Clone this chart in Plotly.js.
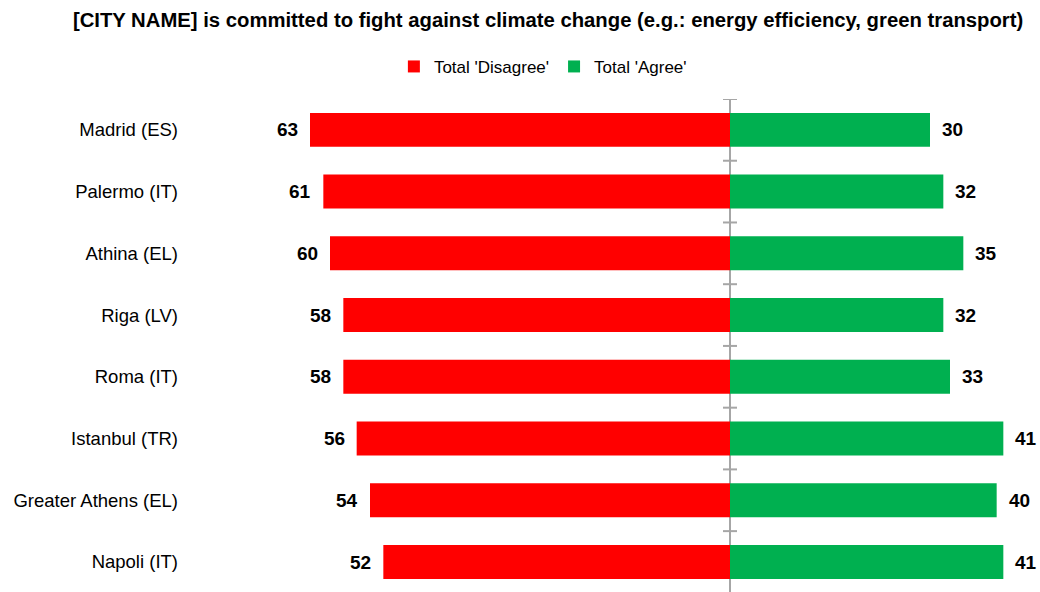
<!DOCTYPE html>
<html>
<head>
<meta charset="utf-8">
<script src="https://cdn.plot.ly/plotly-3.0.1.min.js"></script>
<style>html,body{margin:0;padding:0;background:#fff;}#chart{width:1040px;height:592px;}</style>
</head>
<body>
<div id="chart"></div>
<script>
const cities = ["Madrid (ES)", "Palermo (IT)", "Athina (EL)", "Riga (LV)", "Roma (IT)", "Istanbul (TR)", "Greater Athens (EL)", "Napoli (IT)"];
const disagree = [63, 61, 60, 58, 58, 56, 54, 52];
const agree = [30, 32, 35, 32, 33, 41, 40, 41];
const seriesNames = ["Total 'Disagree'", "Total 'Agree'"];
const titleText = "[CITY NAME] is committed to fight against climate change (e.g.: energy efficiency, green transport)";

const FONT = "'Liberation Sans', Arial, sans-serif";

const traces = [
  {type: 'bar', orientation: 'h', name: seriesNames[0], y: cities, x: disagree.map(v => -v),
   marker: {color: '#FF0000'}, width: 0.55, hoverinfo: 'skip'},
  {type: 'bar', orientation: 'h', name: seriesNames[1], y: cities, x: agree,
   marker: {color: '#00B050'}, width: 0.55, hoverinfo: 'skip'}
];

const annotations = [];
cities.forEach((c, i) => {
  annotations.push({x: -disagree[i], y: c, xref: 'x', yref: 'y', text: '<b>' + disagree[i] + '</b>',
    showarrow: false, xanchor: 'right', xshift: -10, font: {family: FONT, size: 19, color: '#000'}});
  annotations.push({x: agree[i], y: c, xref: 'x', yref: 'y', text: '<b>' + agree[i] + '</b>',
    showarrow: false, xanchor: 'left', xshift: 10, font: {family: FONT, size: 19, color: '#000'}});
});

const shapes = [];
for (let i = 0; i < cities.length; i++) {
  shapes.push({type: 'line', xref: 'x', yref: 'y', xsizemode: 'pixel', xanchor: 0,
    x0: -7, x1: 7, y0: i - 0.5, y1: i - 0.5, line: {color: '#A6A6A6', width: 2}});
}

const layout = {
  width: 1040, height: 592,
  margin: {l: 195, r: 5, t: 99, b: 0},
  paper_bgcolor: '#fff', plot_bgcolor: '#fff',
  title: {text: '<b>' + titleText + '</b>', x: 0.527, xanchor: 'center', y: 0.966, yanchor: 'middle',
    font: {family: FONT, size: 20.3, color: '#000'}},
  showlegend: true,
  legend: {orientation: 'h', xref: 'container', yref: 'container', x: 0.522, xanchor: 'center', y: 0.887, yanchor: 'middle',
    font: {family: FONT, size: 17, color: '#000'}, itemwidth: 30, traceorder: 'normal'},
  barmode: 'relative',
  xaxis: {range: [-80.25, 45.75], showgrid: false, showticklabels: false, ticks: '',
    zeroline: true, zerolinecolor: '#A6A6A6', zerolinewidth: 2, fixedrange: true},
  yaxis: {type: 'category', range: [7.486, -0.5], showgrid: false, ticks: '', showline: false,
    ticklabelstandoff: 16, tickfont: {family: FONT, size: 18.5, color: '#000'}, fixedrange: true},
  annotations: annotations,
  shapes: shapes
};

Plotly.newPlot('chart', traces, layout, {displayModeBar: false, staticPlot: true});
</script>
</body>
</html>
